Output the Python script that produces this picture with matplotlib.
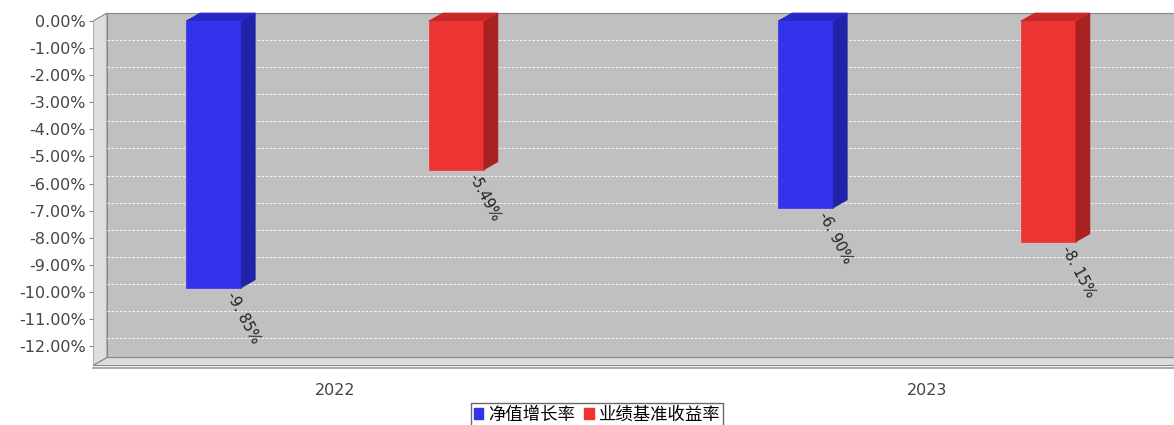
import matplotlib
matplotlib.use("Agg")
import matplotlib.pyplot as plt
from matplotlib.patches import Polygon, Patch

plt.rcParams['font.family'] = ['DejaVu Sans']

years = ["2022", "2023"]
series = ["净值增长率", "业绩基准收益率"]
nav = [-9.85, -6.90]
bench = [-5.49, -8.15]
labels_nav = ["-9. 85%", "-6. 90%"]
labels_bench = ["-5.49%", "-8. 15%"]
yticks = [0, -1, -2, -3, -4, -5, -6, -7, -8, -9, -10, -11, -12]

W, H = 1174, 425
fig = plt.figure(figsize=(W/100, H/100), dpi=100)
ax = fig.add_axes([93/W, 1-368/H, (1174-93)/W, 368/H])
ax.set_xlim(-0.4088, 1.4172)
ax.set_ylim(-12.81, 0.7755)
for s in ax.spines.values():
    s.set_visible(False)
ax.set_xticks([])
ax.set_yticks(yticks)
ax.set_yticklabels([f"{v:.2f}%" for v in yticks], fontsize=11.5, color="#444444")
ax.tick_params(axis='y', length=3, color="#888888", pad=2)

dx, dy = 0.02365, 0.295
xl, xr = -0.4088, 1.4172
ybot = -12.72
ax.add_patch(Polygon([(xl+dx, 0+dy), (xr+0.1, 0+dy), (xr+0.1, ybot+dy), (xl+dx, ybot+dy)],
                     closed=True, fc="#c0c0c0", ec="#888888", lw=0.8, zorder=0))
ax.add_patch(Polygon([(xl, 0), (xl+dx, dy), (xl+dx, ybot+dy), (xl, ybot)],
                     closed=True, fc="#dedede", ec="#888888", lw=0.8, zorder=0))
ax.add_patch(Polygon([(xl, ybot), (xl+dx, ybot+dy), (xr+0.1, ybot+dy), (xr+0.1, ybot)],
                     closed=True, fc="#dcdcdc", ec="#888888", lw=0.8, zorder=0))
for v in yticks[1:]:
    ax.plot([xl+dx, xr], [v+dy, v+dy], ls=(0, (3, 2)), color="white", lw=0.6, zorder=0.5)
ax.plot([xl, xr], [-12.81, -12.81], color="#999999", lw=1.2, zorder=0.5, clip_on=False)

w = 0.093
cols = [("#3333ee", "#2222a8", "#2828c8"), ("#ee3333", "#a82222", "#c82828")]
for i, y in enumerate(years):
    for j, (vals, labs) in enumerate([(nav, labels_nav), (bench, labels_bench)]):
        c = i + (-0.205 if j == 0 else 0.205)
        v = vals[i]
        x0, x1 = c - w/2, c + w/2
        fc, sc, tc = cols[j]
        ax.add_patch(Polygon([(x0, 0), (x1, 0), (x1, v), (x0, v)], fc=fc, ec=fc, lw=0.5, zorder=3))
        ax.add_patch(Polygon([(x1, 0), (x1+dx, dy), (x1+dx, v+dy), (x1, v)], fc=sc, ec=sc, lw=0.5, zorder=3))
        ax.add_patch(Polygon([(x0, 0), (x0+dx, dy), (x1+dx, dy), (x1, 0)], fc=tc, ec=tc, lw=0.5, zorder=3))
        ax.text(x1 - 0.008, v - 0.05, labs[i], rotation=-62, rotation_mode='anchor',
                ha='left', va='top', fontsize=10.5, color="#222222", zorder=4)
    ax.text(i, -13.35, y, ha='center', va='top', fontsize=11.5, color="#444444")

handles = [Patch(fc=cols[0][0], ec=cols[0][0]), Patch(fc=cols[1][0], ec=cols[1][0])]
fig.legend(handles, series, loc='upper center', bbox_to_anchor=(597/W, 1-403/H), ncol=2,
           prop={'family': ['Noto Sans CJK SC', 'DejaVu Sans'], 'size': 12.5},
           frameon=True, fancybox=False, edgecolor="#444444",
           handlelength=0.55, handleheight=0.55, handletextpad=0.3, columnspacing=0.5,
           borderpad=0.15, borderaxespad=0)
fig.savefig("out.png", dpi=100)
